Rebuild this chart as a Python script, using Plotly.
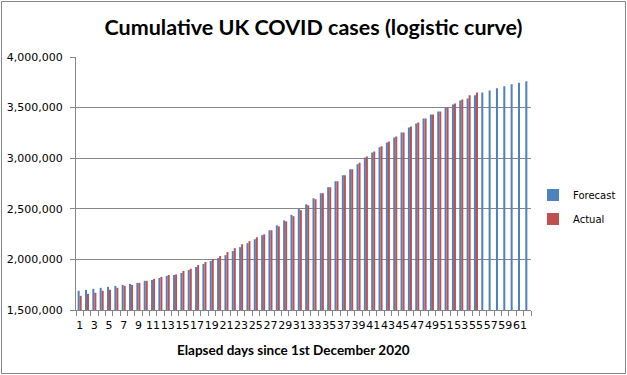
import plotly.graph_objects as go

days = list(range(1, 63))

forecast = [
    1690000, 1699000, 1709000, 1719000, 1729000, 1739000, 1748000, 1758000, 1768000, 1788000,
    1797000, 1817000, 1837000, 1846000, 1866000, 1895000, 1925000, 1954000, 1984000, 2013000,
    2042000, 2082000, 2121000, 2160000, 2199000, 2239000, 2288000, 2337000, 2386000, 2440000,
    2500000, 2545000, 2604000, 2653000, 2713000, 2772000, 2831000, 2890000, 2939000, 3008000,
    3057000, 3107000, 3156000, 3205000, 3254000, 3304000, 3343000, 3392000, 3432000, 3461000,
    3501000, 3530000, 3570000, 3590000, 3623000, 3650000, 3670000, 3690000, 3710000, 3730000,
    3746000, 3760000,
]

actual = [
    1640000, 1660000, 1670000, 1690000, 1700000, 1719000, 1739000, 1748000, 1768000, 1788000,
    1807000, 1827000, 1846000, 1852000, 1886000, 1908000, 1944000, 1974000, 2003000, 2033000,
    2072000, 2111000, 2150000, 2180000, 2219000, 2248000, 2288000, 2327000, 2376000, 2427000,
    2486000, 2535000, 2594000, 2653000, 2713000, 2772000, 2831000, 2890000, 2956000, 3018000,
    3067000, 3117000, 3166000, 3215000, 3254000, 3314000, 3353000, 3392000, 3432000, 3461000,
    3501000, 3540000, 3580000, 3621000, 3650000,
]

x_labels = [str(d) for d in days if d % 2 == 1]
y_ticks = [1500000, 2000000, 2500000, 3000000, 3500000, 4000000]

W, H = 627, 375
L, R, T, B = 76, 96, 57, 65
pw, ph = W - L - R, H - T - B

fig = go.Figure()
fig.add_trace(go.Bar(x=days, y=forecast, name="Forecast", marker_color="#4F81BD",
                     marker_line_width=0, legendgroup="f"))
fig.add_trace(go.Bar(x=days[:len(actual)], y=actual, name="Actual", marker_color="#C0504D",
                     marker_line_width=0, legendgroup="a"))

def px_x(p):
    return (p - L) / pw

def px_y(p):
    return (H - B - p) / ph

fig.update_layout(
    width=W, height=H,
    margin=dict(l=L, r=R, t=T, b=B, autoexpand=False),
    paper_bgcolor="white", plot_bgcolor="white",
    barmode="group", bargap=0.45, bargroupgap=0,
    title=dict(text="<b>Cumulative UK COVID cases (logistic curve)</b>",
               x=0.5, xanchor="center", xref="container", y=1 - 27 / H, yanchor="middle",
               font=dict(family="Lato", size=21.5, color="black")),
    font=dict(family="DejaVu Sans", size=11, color="black"),
    legend=dict(x=px_x(533), y=px_y(207), xanchor="left", yanchor="middle",
                font=dict(family="DejaVu Sans", size=10, color="black"),
                tracegroupgap=5, itemwidth=30, bgcolor="rgba(0,0,0,0)"),
    xaxis=dict(
        range=[0.5, 62.5], tickmode="array",
        tickvals=[d for d in days if d % 2 == 1], ticktext=x_labels,
        ticks="", showgrid=False, zeroline=False, tickangle=0,
        showline=True, linecolor="#868686", linewidth=1,
        tickfont=dict(family="DejaVu Sans", size=11),
        ticklabelstandoff=5,
        minor=dict(tick0=0.5, dtick=1, ticks="outside", ticklen=5, tickcolor="#868686", showgrid=False),
    ),
    yaxis=dict(
        range=[1500000, 4000000], tickmode="array", tickvals=y_ticks,
        tickformat=",", ticks="outside", ticklen=5, tickcolor="#868686",
        showgrid=True, gridcolor="#868686", gridwidth=1, zeroline=False,
        showline=True, linecolor="#868686", linewidth=1,
        tickfont=dict(family="DejaVu Sans", size=11),
        ticklabelstandoff=5,
    ),
    annotations=[dict(text="<b>Elapsed days since 1st December 2020</b>",
                      xref="paper", yref="paper", x=px_x(293), y=px_y(350),
                      xanchor="center", yanchor="middle", showarrow=False,
                      font=dict(family="Lato", size=13.5, color="black"))],
    shapes=[dict(type="rect", xref="paper", yref="paper",
                 x0=px_x(1.5), x1=px_x(625.5), y0=px_y(373.5), y1=px_y(1.5),
                 line=dict(color="#868686", width=1), fillcolor="rgba(0,0,0,0)", layer="below")],
)

fig.write_html("out.html", config={"displayModeBar": False},
               post_script="document.body.style.margin='0';document.body.style.padding='0';document.body.style.overflow='hidden';")
